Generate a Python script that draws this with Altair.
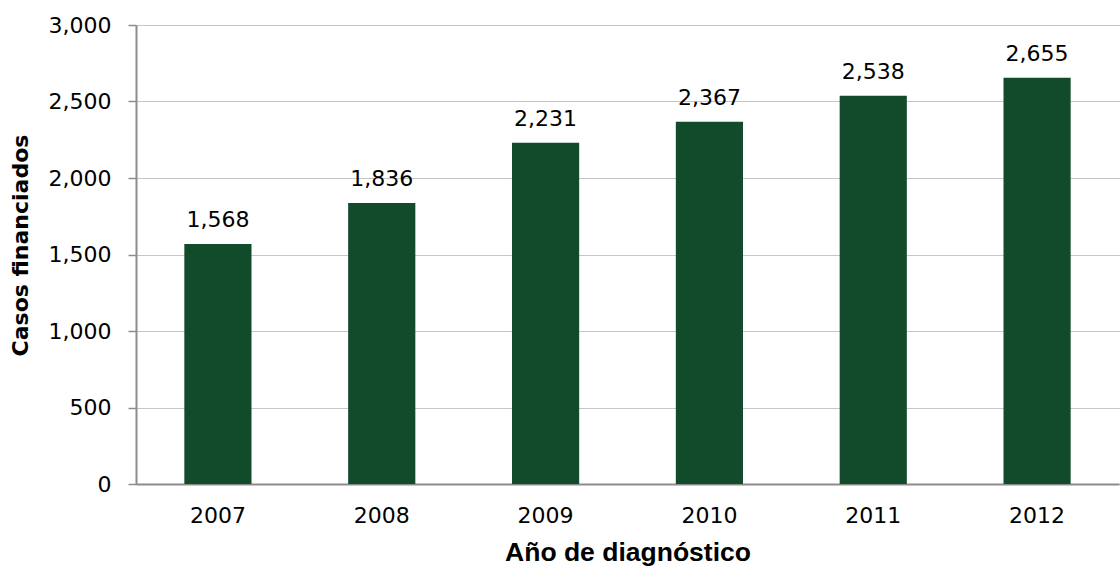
import altair as alt
import pandas as pd

years = ["2007", "2008", "2009", "2010", "2011", "2012"]
casos = [1568, 1836, 2231, 2367, 2538, 2655]

df = pd.DataFrame({"anio": years, "casos": casos})

x = alt.X("anio:N", title="Año de diagnóstico",
          scale=alt.Scale(paddingInner=0.59, paddingOuter=0.295),
          axis=alt.Axis(labelAngle=0, ticks=False, labelPadding=21,
                        labelFont="DejaVu Sans", labelFontSize=22, labelColor="#000",
                        titleFont="Liberation Sans", titleFontSize=26.5, titleFontWeight="bold",
                        titleColor="#000", titlePadding=13,
                        domainColor="#8c8c8c", domainWidth=2))
y = alt.Y("casos:Q", title="Casos financiados",
          scale=alt.Scale(domain=[0, 3000], nice=False),
          axis=alt.Axis(values=[0, 500, 1000, 1500, 2000, 2500, 3000], format=",d",
                        tickSize=8, tickColor="#8c8c8c", tickWidth=1.5,
                        labelPadding=17, labelFont="DejaVu Sans", labelFontSize=22,
                        labelColor="#000",
                        titleFont="DejaVu Sans", titleFontSize=22, titleFontWeight="bold",
                        titleColor="#000", titleX=-104, titleY=220,
                        domainColor="#8c8c8c", domainWidth=2,
                        grid=True, gridColor="#8c8c8c", gridDash=[1, 1], gridWidth=1))

bars = alt.Chart(df).mark_bar(color="#114b2b").encode(x=x, y=y)
text = alt.Chart(df).mark_text(baseline="alphabetic", dy=-17, font="DejaVu Sans",
                               fontSize=22, color="#000").encode(
    x=alt.X("anio:N"), y=alt.Y("casos:Q"), text=alt.Text("casos:Q", format=",d"))

chart = (bars + text).properties(
    width=983, height=459,
    autosize=alt.AutoSizeParams(type="none"),
    padding={"left": 136, "top": 25, "right": 1, "bottom": 85},
).configure_view(stroke=None)

chart.save("out.html", embed_options={"renderer": "svg", "actions": False})
